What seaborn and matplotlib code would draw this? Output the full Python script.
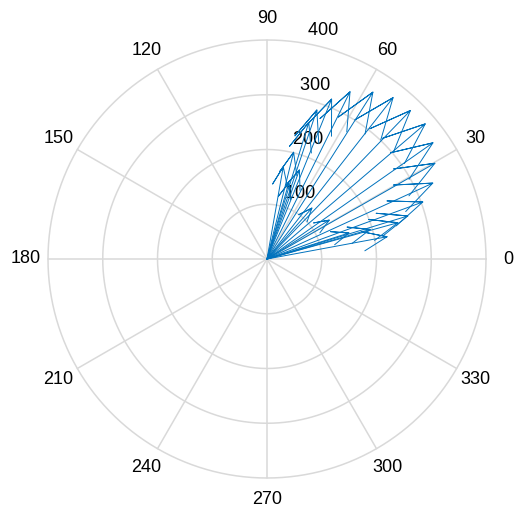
import matplotlib
matplotlib.use('Agg')
import matplotlib.pyplot as plt
import numpy as np
import pandas as pd
import seaborn as sns

# Arrow directions (deg) and magnitudes.
angles = [80, 76, 74, 73, 70, 71.5, 68, 63.6, 57.6, 52, 46, 40.5, 35, 29.7,
          24.6, 20.1, 17, 15.5, 16, 10.5, 17.6, 32, 48.6]
speeds = [171, 201, 145, 261, 173, 287, 315, 341, 361, 374, 377, 380, 370, 353,
          333, 303, 269, 248, 196, 223, 157, 134, 124]

# Grid settings.
r_ticks = [100, 200, 300, 400]
theta_ticks = np.arange(0, 360, 30)
rmax = 400

sns.set_style('white')
plt.rcParams['font.family'] = ['Liberation Sans', 'DejaVu Sans']

# Build compass arrow paths (same shape as a MATLAB compass arrow).
arrow = np.array([0, 1, .8, 1, .8]) + 1j * np.array([0, 0, .08, 0, -.08])
rows = []
for k, (a, s) in enumerate(zip(angles, speeds)):
    z = s * np.exp(1j * np.deg2rad(a))
    pts = arrow * z
    for i, p in enumerate(pts):
        rows.append({'arrow': k, 'step': i, 'u': p.real, 'v': p.imag})
df = pd.DataFrame(rows)

fig = plt.figure(figsize=(5.15, 5.17), dpi=100)
ax = fig.add_axes([0, 0, 1, 1])
scale = 219 / rmax
ax.set_xlim(-267 / scale, (515 - 267) / scale)
ax.set_ylim(-(517 - 259) / scale, 259 / scale)
ax.axis('off')

grid_col = '#d9d9d9'
t = np.linspace(0, 2 * np.pi, 361)
for r in r_ticks:
    ax.plot(r * np.cos(t), r * np.sin(t), color=grid_col, lw=1.1, zorder=1)
for th in theta_ticks[:6]:
    c, s = np.cos(np.deg2rad(th)), np.sin(np.deg2rad(th))
    ax.plot([-rmax * c, rmax * c], [-rmax * s, rmax * s], color=grid_col, lw=1.1, zorder=1)

# Angle labels.
for th in theta_ticks:
    c, s = np.cos(np.deg2rad(th)), np.sin(np.deg2rad(th))
    ax.text(1.1 * rmax * c, 1.1 * rmax * s, str(th), ha='center', va='center',
            fontsize=13, color='black')

# Radius labels at 82 degrees.
c82, s82 = np.cos(np.deg2rad(82)), np.sin(np.deg2rad(82))
for r in r_ticks:
    ax.text((r + 5) * c82, (r + 5) * s82, '  ' + str(r), ha='left', va='bottom',
            fontsize=13, color='black')

sns.lineplot(data=df, x='u', y='v', units='arrow', estimator=None, sort=False,
             color='#0072BD', lw=0.7, ax=ax, zorder=3)

fig.savefig('out.png', dpi=100)
